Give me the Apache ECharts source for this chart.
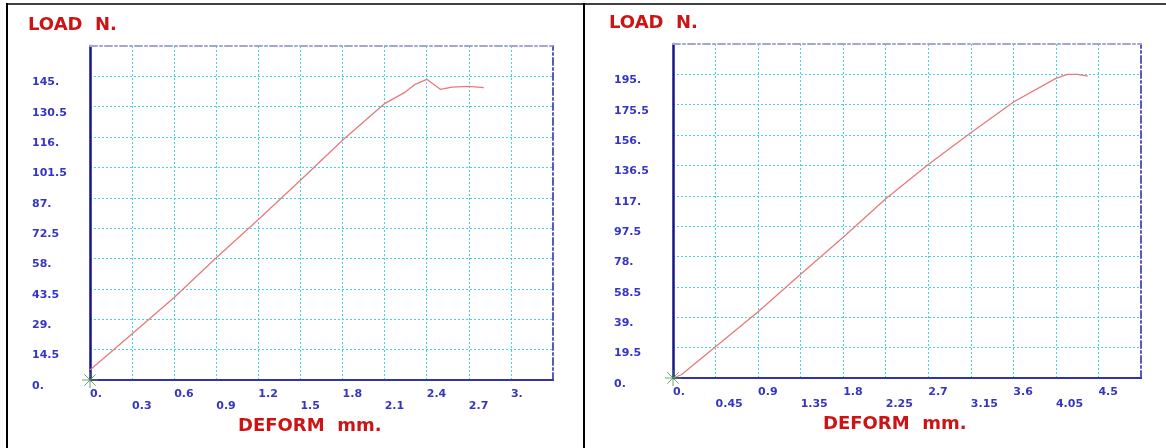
<!DOCTYPE html>
<html>
<head>
<meta charset="utf-8">
<script src="https://cdn.jsdelivr.net/npm/echarts@6/dist/echarts.min.js"></script>
<style>
html,body{margin:0;padding:0;background:#fff;}
#c{width:1166px;height:448px;}
</style>
</head>
<body>
<div id="c"></div>
<script>
// ---- data ----
const leftDeform = [0, 0.305, 0.6, 0.894, 1.2, 1.5, 1.8, 2.1, 2.247, 2.318, 2.4, 2.497, 2.58, 2.7, 2.807];
const leftLoad   = [4.8, 22.3, 39.4, 58.0, 76.6, 95.4, 114.5, 132.0, 137.5, 141.2, 143.6, 138.8, 139.9, 140.2, 139.6];
const rightDeform = [0, 0.088, 0.447, 0.897, 1.347, 1.8, 2.25, 2.7, 3.15, 3.606, 4.05, 4.17, 4.275, 4.387];
const rightLoad   = [0, 2.1, 19.9, 42.4, 66.4, 90.4, 115.1, 137.1, 157.5, 177.4, 192.4, 195.0, 195.0, 193.9];

const leftXLabels  = ['0.', '0.3', '0.6', '0.9', '1.2', '1.5', '1.8', '2.1', '2.4', '2.7', '3.', ''];
const leftYLabels  = ['0.', '14.5', '29.', '43.5', '58.', '72.5', '87.', '101.5', '116.', '130.5', '145.', ''];
const rightXLabels = ['0.', '0.45', '0.9', '1.35', '1.8', '2.25', '2.7', '3.15', '3.6', '4.05', '4.5', ''];
const rightYLabels = ['0.', '19.5', '39.', '58.5', '78.', '97.5', '117.', '136.5', '156.', '175.5', '195.', ''];

const yTitle = 'LOAD  N.';
const xTitle = 'DEFORM  mm.';

// ---- styles ----
const FONT = 'DejaVu Sans';
const labelColor = '#3535c5';
const titleColor = '#cc1414';
const gridColor = '#3fd4dc';
const curveColor = '#e87a7a';

function xAxisMain(gi, max, interval, labels) {
  return {
    gridIndex: gi, type: 'value', min: 0, max: max, interval: interval, position: 'bottom',
    axisLine: { onZero: false, lineStyle: { color: '#3434a0', width: 2 } },
    axisTick: { show: false },
    splitLine: { show: true, showMinLine: false, showMaxLine: false,
      lineStyle: { color: gridColor, type: [2, 2], width: 1 } },
    axisLabel: {
      margin: 8, align: 'left', verticalAlign: 'top', lineHeight: 12,
      color: labelColor, fontFamily: FONT, fontWeight: 'bold', fontSize: 11,
      showMaxLabel: false,
      formatter: (v, i) => { const t = labels[i] || ''; return i % 2 ? '\n' + t : t; }
    }
  };
}
function xAxisTop(gi, max) {
  return {
    gridIndex: gi, type: 'value', min: 0, max: max, position: 'top',
    axisLine: { onZero: false, lineStyle: { color: '#a4a4d6', width: 2, type: [7, 3, 2, 3] } },
    axisTick: { show: false }, axisLabel: { show: false }, splitLine: { show: false }
  };
}
function yAxisMain(gi, max, interval, labels, margin) {
  return {
    gridIndex: gi, type: 'value', min: 0, max: max, interval: interval, position: 'left',
    axisLine: { show: true, onZero: false, lineStyle: { color: '#15158a', width: 2.5 } },
    axisTick: { show: false },
    splitLine: { show: true, showMinLine: false, showMaxLine: false,
      lineStyle: { color: gridColor, type: [2, 2], width: 1 } },
    axisLabel: {
      margin: margin, align: 'left', verticalAlign: 'top', lineHeight: 12,
      color: labelColor, fontFamily: FONT, fontWeight: 'bold', fontSize: 11,
      showMaxLabel: false,
      formatter: (v, i) => labels[i] || ''
    }
  };
}
function yAxisRight(gi, max) {
  return {
    gridIndex: gi, type: 'value', min: 0, max: max, position: 'right',
    axisLine: { show: true, onZero: false, lineStyle: { color: '#5a5ab8', width: 2, type: [7, 3, 2, 3] } },
    axisTick: { show: false }, axisLabel: { show: false }, splitLine: { show: false }
  };
}

const zip = (a, b) => a.map((v, i) => [v, b[i]]);
const star = 'path://M0,-8L0,8M-8,0L8,0M-5.7,-5.7L5.7,5.7M-5.7,5.7L5.7,-5.7';

function textEl(text, x, y) {
  return { type: 'text', x: x, y: y, z: 10,
    style: { text: text, fill: titleColor, font: 'bold 18px "DejaVu Sans"', align: 'left', verticalAlign: 'middle' } };
}

const chart = echarts.init(document.getElementById('c'), null, { renderer: 'canvas' });
chart.setOption({
  animation: false,
  backgroundColor: '#ffffff',
  grid: [
    { left: 90, top: 46, width: 463, height: 334 },
    { left: 673, top: 44, width: 468, height: 334 }
  ],
  xAxis: [
    xAxisMain(0, 3.3, 0.3, leftXLabels),
    xAxisTop(0, 3.3),
    xAxisMain(1, 4.95, 0.45, rightXLabels),
    xAxisTop(1, 4.95)
  ],
  yAxis: [
    yAxisMain(0, 159.5, 14.5, leftYLabels, 58),
    yAxisRight(0, 159.5),
    yAxisMain(1, 214.5, 19.5, rightYLabels, 59),
    yAxisRight(1, 214.5)
  ],
  series: [
    { type: 'line', xAxisIndex: 0, yAxisIndex: 0, data: zip(leftDeform, leftLoad),
      showSymbol: false, lineStyle: { color: curveColor, width: 1.3 }, z: 3 },
    { type: 'line', xAxisIndex: 2, yAxisIndex: 2, data: zip(rightDeform, rightLoad),
      showSymbol: false, lineStyle: { color: curveColor, width: 1.3 }, z: 3 },
    { type: 'scatter', xAxisIndex: 0, yAxisIndex: 0, data: [[leftDeform[0], 0]], clip: false,
      symbol: star, symbolSize: 16, itemStyle: { color: 'none', borderColor: '#4d8f4d', borderWidth: 1 }, z: 5 },
    { type: 'scatter', xAxisIndex: 2, yAxisIndex: 2, data: [[rightDeform[0], 0]], clip: false,
      symbol: star, symbolSize: 16, itemStyle: { color: 'none', borderColor: '#4d8f4d', borderWidth: 1 }, z: 5 }
  ],
  graphic: [
    { type: 'line', shape: { x1: 7, y1: 4, x2: 1166, y2: 4 }, style: { stroke: '#000', lineWidth: 1.5 }, z: 10 },
    { type: 'line', shape: { x1: 7, y1: 3, x2: 7, y2: 448 }, style: { stroke: '#000', lineWidth: 2 }, z: 10 },
    { type: 'line', shape: { x1: 584, y1: 3, x2: 584, y2: 448 }, style: { stroke: '#000', lineWidth: 2 }, z: 10 },
    textEl(yTitle, 28, 25),
    textEl(yTitle, 609, 23),
    textEl(xTitle, 238, 426),
    textEl(xTitle, 823, 424)
  ]
});
</script>
</body>
</html>
